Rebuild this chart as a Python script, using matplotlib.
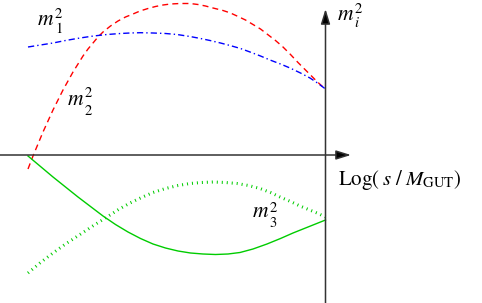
import matplotlib
matplotlib.use("Agg")
import matplotlib.pyplot as plt

plt.rcParams['mathtext.fontset'] = 'stix'
plt.rcParams['font.family'] = ['STIXGeneral', 'DejaVu Serif']

# schematic running of masses; t = Log(s/M_GUT) (arbitrary units), values = m_i^2 (arbitrary units)
t_m2 = [-297.5, -292.5, -287.5, -282.5, -277.5, -272.5, -267.5, -262.5, -257.5, -252.5,
        -247.5, -242.5, -237.5, -232.5, -227.5, -222.5, -215, -207.5, -200, -192.5,
        -185.5, -177.5, -170, -162.5, -155, -145.5, -135.5, -127.5, -120, -112.5,
        -102.5, -95, -88.5, -80, -72.5, -65, -58.5, -50, -42.5, -35,
        -27.5, -20, -15.5, -8, -2.5, 0.0]
m2_sq = [-14, -1, 11, 23, 34, 45, 55, 65, 74, 83,
         91, 99, 106, 112, 118, 123, 129, 134, 138, 141,
         144, 146.5, 148.5, 150, 151, 151.5, 151.5, 150.5, 149, 147,
         144.5, 142, 139, 135, 130.5, 126, 121, 114.5, 108, 100.5,
         92.5, 85, 80.5, 73, 68, 66]

t_m1 = [-297.5, -285, -272.5, -260, -245.5, -232, -218.5, -205, -195.5, -185,
        -172.5, -160, -148.5, -135.5, -125, -115.5, -105, -95.5, -85, -75.5,
        -65, -55.5, -45, -35.5, -25, -15.5, -8, 0.0]
m1_sq = [108, 110, 112, 114.5, 117, 119, 120.5, 121.5, 122, 122.3,
         122, 121.5, 120.5, 118.5, 116.5, 114.5, 112, 109.5, 106.5, 103,
         99, 95, 91, 87, 82, 77, 72, 66]

t_m3 = [-297.5, -285, -272.5, -260, -247.5, -235, -222.5, -210, -197.5, -185,
        -172.5, -160, -147.5, -135, -122.5, -110, -97.5, -85.5, -72.5, -58.5,
        -45, -32.5, -20, -10, 0.0]
m3_sq = [-1, -11.5, -22, -32, -42, -51.5, -61, -69.5, -77, -83.5,
         -89, -93, -96, -98, -99, -99.5, -99, -97.5, -94, -89,
         -83.5, -78, -73, -69, -65]

t_m3b = [-297.5, -285, -272.5, -260, -245.5, -232, -218.5, -207, -195.5, -184,
         -172.5, -160, -147.5, -135.5, -124, -112.5, -100, -88.5, -77, -65.5,
         -55, -45.5, -35, -25.5, -17, -8.5, 0.0]
m3b_sq = [-118, -107.5, -98, -89, -79.5, -70.5, -62, -54.5, -48, -42.5,
          -37.5, -33.5, -30.5, -28.5, -27.5, -27, -27.5, -28.5, -30.5, -33.5,
          -37.5, -42, -46.5, -51, -54.5, -58, -62]

fig = plt.figure(figsize=(4.82, 3.03), dpi=100)
ax = fig.add_axes([0, 0, 1, 1])
ax.set_xlim(-325.5, 156.5)
ax.set_ylim(-148, 155)
ax.axis('off')

axcol = '#333333'
ax.annotate('', xy=(25.5, 0), xytext=(-325.5, 0),
            arrowprops=dict(arrowstyle='-|>,head_length=0.9,head_width=0.28',
                            mutation_scale=10, lw=1.1, color=axcol, fc='black',
                            shrinkA=0, shrinkB=0))
ax.annotate('', xy=(0, 146), xytext=(0, -150),
            arrowprops=dict(arrowstyle='-|>,head_length=0.9,head_width=0.28',
                            mutation_scale=10, lw=1.1, color=axcol, fc='black',
                            shrinkA=0, shrinkB=0))

green = '#00cc00'
ax.plot(t_m2, m2_sq, color='#ff0000', lw=1.0, linestyle=(0, (4.3, 3.0)))
ax.plot(t_m1, m1_sq, color='#0000ff', lw=1.0, linestyle=(0, (4.5, 2.2, 1.0, 2.2)))
ax.plot(t_m3, m3_sq, color=green, lw=1.0)
ax.plot(t_m3b, m3b_sq, color=green, lw=2.2, linestyle=(0, (0.33, 1.3)))

# labels: (x of m, baseline of m, superscript baseline, subscript baseline, subscript text)
fs_m = 15.5
fs_s = 10.5


def mlabel(x, y, ysup, ysub, sub, sub_italic=False):
    ax.text(x, y, 'm', fontsize=fs_m, style='italic', ha='left', va='baseline')
    ax.text(x + 17, ysup, '2', fontsize=fs_s, ha='left', va='baseline')
    ax.text(x + 17, ysub, sub, fontsize=fs_s, ha='left', va='baseline',
            style='italic' if sub_italic else 'normal')


mlabel(-287.5, 130, 137, 122, '1')
mlabel(-257.5, 50, 58, 40, '2')
mlabel(12.0, 135, 142, 128, 'i', sub_italic=True)
mlabel(-73.0, -62, -57, -72, '3')

ax.text(12.5, -30, r'$\mathrm{Log}(\;s\;/\;M_{\mathrm{GUT}})$', fontsize=15,
        ha='left', va='baseline')

fig.savefig('out.png', dpi=100)
